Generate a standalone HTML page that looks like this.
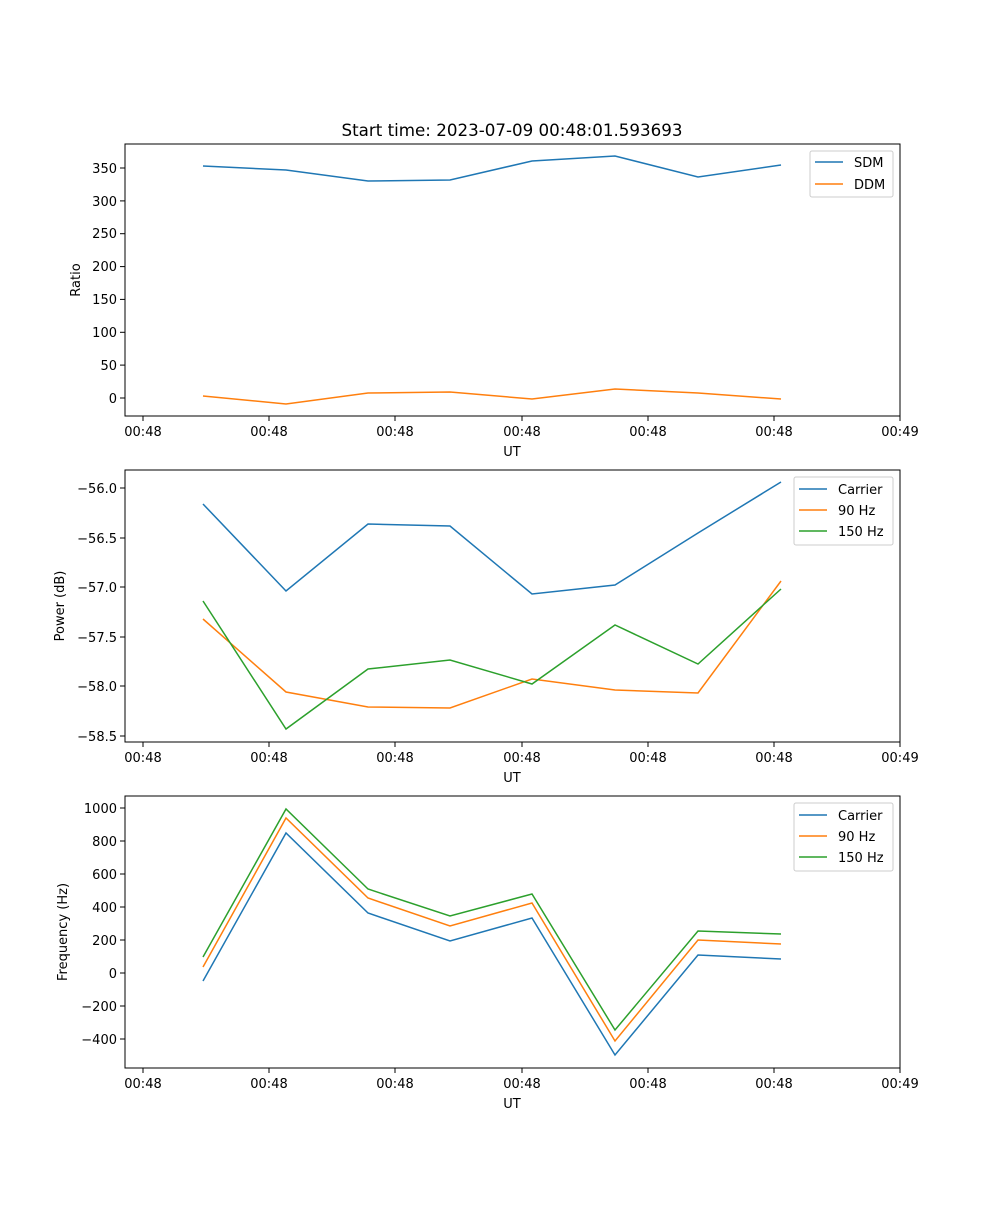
<!DOCTYPE html>
<html><head><style>body{margin:0;background:#fff}svg text{font-family:"DejaVu Sans","Liberation Sans",sans-serif;font-size:13px;fill:#000}</style></head>
<body>
<svg width="1000" height="1200" xmlns="http://www.w3.org/2000/svg">
<rect width="1000" height="1200" fill="#fff"/>
<text x="512" y="136" text-anchor="middle" style="font-size:16.7px">Start time: 2023-07-09 00:48:01.593693</text>

<!-- Panel 1 -->
<g>
<rect x="125" y="144" width="775" height="272" fill="none" stroke="#000" stroke-width="1"/>
<g stroke="#000">
<line x1="120" x2="125" y1="398" y2="398"/><line x1="120" x2="125" y1="365.1" y2="365.1"/><line x1="120" x2="125" y1="332.3" y2="332.3"/><line x1="120" x2="125" y1="299.4" y2="299.4"/><line x1="120" x2="125" y1="266.6" y2="266.6"/><line x1="120" x2="125" y1="233.7" y2="233.7"/><line x1="120" x2="125" y1="200.9" y2="200.9"/><line x1="120" x2="125" y1="168" y2="168"/>
</g>
<g text-anchor="end">
<text x="117" y="403">0</text><text x="117" y="370">50</text><text x="117" y="337">100</text><text x="117" y="304">150</text><text x="117" y="271">200</text><text x="117" y="238">250</text><text x="117" y="206">300</text><text x="117" y="173">350</text>
</g>
<text transform="translate(80,280) rotate(-90)" text-anchor="middle">Ratio</text>
<g stroke="#000"><line x1="143" x2="143" y1="416" y2="421"/><line x1="269" x2="269" y1="416" y2="421"/><line x1="395" x2="395" y1="416" y2="421"/><line x1="522" x2="522" y1="416" y2="421"/><line x1="648" x2="648" y1="416" y2="421"/><line x1="774" x2="774" y1="416" y2="421"/><line x1="900" x2="900" y1="416" y2="421"/></g>
<g text-anchor="middle"><text x="143" y="436">00:48</text><text x="269" y="436">00:48</text><text x="395" y="436">00:48</text><text x="522" y="436">00:48</text><text x="648" y="436">00:48</text><text x="774" y="436">00:48</text><text x="900" y="436">00:49</text></g>
<text x="512" y="456" text-anchor="middle">UT</text>
<polyline fill="none" stroke="#1f77b4" stroke-width="1.5" points="203,166 286,170 368,181 450,180 532,161 615,156 698,177 781,165"/>
<polyline fill="none" stroke="#ff7f0e" stroke-width="1.5" points="203,396 286,404 368,393 450,392 532,399 615,389 698,393 781,399"/>
<rect x="810" y="151" width="83" height="46" fill="#fff" stroke="#ccc" rx="2"/>
<line x1="815" x2="843" y1="162" y2="162" stroke="#1f77b4" stroke-width="1.5"/><text x="854" y="167">SDM</text>
<line x1="815" x2="843" y1="184" y2="184" stroke="#ff7f0e" stroke-width="1.5"/><text x="854" y="189">DDM</text>
</g>

<!-- Panel 2 -->
<g>
<rect x="125" y="470" width="775" height="272" fill="none" stroke="#000"/>
<g stroke="#000"><line x1="120" x2="125" y1="488" y2="488"/><line x1="120" x2="125" y1="538" y2="538"/><line x1="120" x2="125" y1="587" y2="587"/><line x1="120" x2="125" y1="637" y2="637"/><line x1="120" x2="125" y1="686" y2="686"/><line x1="120" x2="125" y1="736" y2="736"/></g>
<g text-anchor="end"><text x="117" y="493">−56.0</text><text x="117" y="543">−56.5</text><text x="117" y="592">−57.0</text><text x="117" y="642">−57.5</text><text x="117" y="691">−58.0</text><text x="117" y="741">−58.5</text></g>
<text transform="translate(64,606) rotate(-90)" text-anchor="middle">Power (dB)</text>
<g stroke="#000"><line x1="143" x2="143" y1="742" y2="747"/><line x1="269" x2="269" y1="742" y2="747"/><line x1="395" x2="395" y1="742" y2="747"/><line x1="522" x2="522" y1="742" y2="747"/><line x1="648" x2="648" y1="742" y2="747"/><line x1="774" x2="774" y1="742" y2="747"/><line x1="900" x2="900" y1="742" y2="747"/></g>
<g text-anchor="middle"><text x="143" y="762">00:48</text><text x="269" y="762">00:48</text><text x="395" y="762">00:48</text><text x="522" y="762">00:48</text><text x="648" y="762">00:48</text><text x="774" y="762">00:48</text><text x="900" y="762">00:49</text></g>
<text x="512" y="782" text-anchor="middle">UT</text>
<polyline fill="none" stroke="#1f77b4" stroke-width="1.5" points="203,504 286,591 368,524 450,526 532,594 615,585 698,533 781,482"/>
<polyline fill="none" stroke="#ff7f0e" stroke-width="1.5" points="203,619 286,692 368,707 450,708 532,679 615,690 698,693 781,581"/>
<polyline fill="none" stroke="#2ca02c" stroke-width="1.5" points="203,601 286,729 368,669 450,660 532,684 615,625 698,664 781,589"/>
<rect x="794" y="477" width="99" height="68" fill="#fff" stroke="#ccc" rx="2"/>
<line x1="799" x2="827" y1="489" y2="489" stroke="#1f77b4" stroke-width="1.5"/><text x="838" y="494">Carrier</text>
<line x1="799" x2="827" y1="510" y2="510" stroke="#ff7f0e" stroke-width="1.5"/><text x="838" y="515">90 Hz</text>
<line x1="799" x2="827" y1="531" y2="531" stroke="#2ca02c" stroke-width="1.5"/><text x="838" y="536">150 Hz</text>
</g>

<!-- Panel 3 -->
<g>
<rect x="125" y="796" width="775" height="272" fill="none" stroke="#000"/>
<g stroke="#000"><line x1="120" x2="125" y1="808" y2="808"/><line x1="120" x2="125" y1="841" y2="841"/><line x1="120" x2="125" y1="874" y2="874"/><line x1="120" x2="125" y1="907" y2="907"/><line x1="120" x2="125" y1="940" y2="940"/><line x1="120" x2="125" y1="973" y2="973"/><line x1="120" x2="125" y1="1006" y2="1006"/><line x1="120" x2="125" y1="1039" y2="1039"/></g>
<g text-anchor="end"><text x="117" y="813">1000</text><text x="117" y="846">800</text><text x="117" y="879">600</text><text x="117" y="912">400</text><text x="117" y="945">200</text><text x="117" y="978">0</text><text x="117" y="1011">−200</text><text x="117" y="1044">−400</text></g>
<text transform="translate(67,932) rotate(-90)" text-anchor="middle">Frequency (Hz)</text>
<g stroke="#000"><line x1="143" x2="143" y1="1068" y2="1073"/><line x1="269" x2="269" y1="1068" y2="1073"/><line x1="395" x2="395" y1="1068" y2="1073"/><line x1="522" x2="522" y1="1068" y2="1073"/><line x1="648" x2="648" y1="1068" y2="1073"/><line x1="774" x2="774" y1="1068" y2="1073"/><line x1="900" x2="900" y1="1068" y2="1073"/></g>
<g text-anchor="middle"><text x="143" y="1088">00:48</text><text x="269" y="1088">00:48</text><text x="395" y="1088">00:48</text><text x="522" y="1088">00:48</text><text x="648" y="1088">00:48</text><text x="774" y="1088">00:48</text><text x="900" y="1088">00:49</text></g>
<text x="512" y="1108" text-anchor="middle">UT</text>
<polyline fill="none" stroke="#1f77b4" stroke-width="1.5" points="203,981 286,833 368,913 450,941 532,918 615,1055 698,955 781,959"/>
<polyline fill="none" stroke="#ff7f0e" stroke-width="1.5" points="203,967 286,818 368,898 450,926 532,903 615,1041 698,940 781,944"/>
<polyline fill="none" stroke="#2ca02c" stroke-width="1.5" points="203,957 286,809 368,889 450,916 532,894 615,1030 698,931 781,934"/>
<rect x="794" y="803" width="99" height="68" fill="#fff" stroke="#ccc" rx="2"/>
<line x1="799" x2="827" y1="815" y2="815" stroke="#1f77b4" stroke-width="1.5"/><text x="838" y="820">Carrier</text>
<line x1="799" x2="827" y1="836" y2="836" stroke="#ff7f0e" stroke-width="1.5"/><text x="838" y="841">90 Hz</text>
<line x1="799" x2="827" y1="857" y2="857" stroke="#2ca02c" stroke-width="1.5"/><text x="838" y="862">150 Hz</text>
</g>
</svg>
</body></html>
